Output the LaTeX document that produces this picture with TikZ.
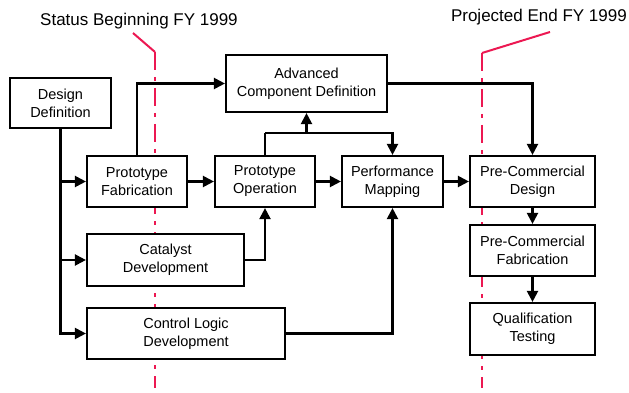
\documentclass[tikz,border=0pt]{standalone}
\usepackage{fontspec}
\setmainfont{Liberation Sans}
\usetikzlibrary{arrows.meta}
\definecolor{milestone}{RGB}{236,24,82}
\tikzset{
  box/.style={draw, line width=2.2pt, fill=white, align=center, inner sep=0pt,
    font=\fontsize{14.5}{18}\selectfont},
  arr/.style={line width=2.2pt, -{Triangle[length=11pt,width=11pt]}},
  link/.style={line width=2.2pt},
  fyline/.style={milestone, line width=2pt, dash pattern=on 18pt off 7pt on 4pt off 7pt},
  leader/.style={milestone, line width=2pt},
  fylabel/.style={font=\fontsize{17}{20}\selectfont, inner sep=0pt}
}
\begin{document}
\begin{tikzpicture}[x=1pt, y=-1pt]
\useasboundingbox (0,0) rectangle (629,393);

% fiscal-year markers (drawn first, boxes cover them)
\node[fylabel, anchor=west] (status) at (40,21) {Status Beginning FY 1999};
\node[fylabel, anchor=east] (proj) at (627,17) {Projected End FY 1999};
\coordinate (sTop) at (155,52);
\coordinate (sBot) at (155,388);
\coordinate (pTop) at (482,53);
\coordinate (pBot) at (482,388);
\coordinate (sLead) at (133,33);
\coordinate (pLead) at (550,32);
\draw[fyline] (sTop) -- (sBot);
\draw[fyline] (pTop) -- (pBot);
\draw[leader] (sLead) -- (sTop);
\draw[leader] (pLead) -- (pTop);

% activity boxes
\node[box, minimum width=101pt, minimum height=50pt] (dd)  at (60.5,103)   {Design\\Definition};
\node[box, minimum width=161pt, minimum height=57pt] (acd) at (306.5,83.5) {Advanced\\Component Definition};
\node[box, minimum width=100pt, minimum height=51pt] (pf)  at (137,181.5)  {Prototype\\Fabrication};
\node[box, minimum width=100pt, minimum height=51pt] (po)  at (265,181.5)  {Prototype\\Operation};
\node[box, minimum width=101pt, minimum height=51pt] (pm)  at (392.5,181.5){Performance\\Mapping};
\node[box, minimum width=125pt, minimum height=51pt] (pcd) at (532.5,181.5){Pre-Commercial\\Design};
\node[box, minimum width=157pt, minimum height=52pt] (cd)  at (165.5,260)  {Catalyst\\Development};
\node[box, minimum width=198pt, minimum height=51pt] (cld) at (186,333.5)  {Control Logic\\Development};
\node[box, minimum width=125pt, minimum height=51pt] (pcf) at (532.5,250.5){Pre-Commercial\\Fabrication};
\node[box, minimum width=125pt, minimum height=52pt] (qt)  at (532.5,329)  {Qualification\\Testing};

% connectors
\draw[arr] (dd.south) |- (pf.west);
\draw[arr] (dd.south) |- (cd.west);
\draw[arr] (dd.south) |- (cld.west);
\draw[arr] (pf.north) |- (acd.west);
\draw[arr] (pf) -- (po);
\draw[arr] (po) -- (pm);
\draw[arr] (pm) -- (pcd);
\coordinate (bus) at (265,133);
\draw[link] (po.north) -- (bus);
\draw[arr] (bus) -| (pm.north);
\draw[arr] (acd.south |- bus) -- (acd.south);
\draw[arr] (acd.east) -| (pcd.north);
\draw[arr] (cd.east) -| (po.south);
\draw[arr] (cld.east) -| (pm.south);
\draw[arr] (pcd) -- (pcf);
\draw[arr] (pcf) -- (qt);
\end{tikzpicture}
\end{document}
